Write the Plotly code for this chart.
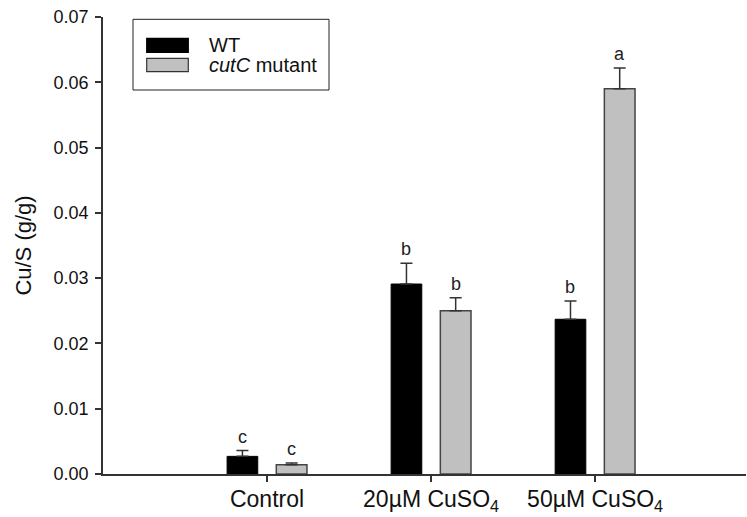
import plotly.graph_objects as go

# Data
categories = ["Control", "20\u00b5M CuSO<sub>4</sub>", "50\u00b5M CuSO<sub>4</sub>"]
series_names = ["WT", "<i>cutC</i> mutant"]
wt_values = [0.0027, 0.0291, 0.0237]
wt_errors = [0.0009, 0.0032, 0.0028]
mut_values = [0.0014, 0.0250, 0.0590]
mut_errors = [0.0003, 0.0020, 0.0032]
wt_letters = ["c", "b", "b"]
mut_letters = ["c", "b", "a"]
y_ticks = [0.00, 0.01, 0.02, 0.03, 0.04, 0.05, 0.06, 0.07]

FONT = "Liberation Sans, Arial, sans-serif"
W, H = 747, 517
L, R, T, B = 103, 1, 17, 43
BAR_W = 0.187
SHIFT = 0.15

xpos = list(range(len(categories)))

fig = go.Figure()

fig.add_trace(go.Bar(
    x=xpos, y=wt_values, name=series_names[0],
    width=BAR_W, offset=-SHIFT - BAR_W / 2,
    marker=dict(color="#000000", line=dict(color="#000000", width=1)),
    error_y=dict(type="data", symmetric=False, array=wt_errors,
                 arrayminus=[0] * len(wt_errors),
                 color="#333333", thickness=1.5, width=6),
    showlegend=False,
))
fig.add_trace(go.Bar(
    x=xpos, y=mut_values, name=series_names[1],
    width=BAR_W, offset=SHIFT - BAR_W / 2,
    marker=dict(color="#c0c0c0", line=dict(color="#444444", width=1.5)),
    error_y=dict(type="data", symmetric=False, array=mut_errors,
                 arrayminus=[0] * len(mut_errors),
                 color="#333333", thickness=1.5, width=6),
    showlegend=False,
))

# Significance letters above each error bar
annotations = []
for i in xpos:
    for off, vals, errs, letters in ((-SHIFT, wt_values, wt_errors, wt_letters),
                                     (SHIFT, mut_values, mut_errors, mut_letters)):
        annotations.append(dict(
            x=i + off, y=vals[i] + errs[i], xref="x", yref="y",
            text=letters[i], showarrow=False, yanchor="bottom", yshift=2,
            font=dict(family=FONT, size=18, color="#222222"),
        ))

# Legend box drawn in pixel terms
def px(x):
    return (x - L) / (W - L - R)

def py(y):
    return (H - B - y) / (H - T - B)

shapes = [
    dict(type="rect", xref="paper", yref="paper",
         x0=px(133), x1=px(329), y0=py(90), y1=py(19.3),
         line=dict(color="#222222", width=1), fillcolor="white"),
]
swatches = [("#000000", "#000000", 38.3, 52.3), ("#c0c0c0", "#333333", 58.3, 71.7)]
for (fill, edge, y0, y1), name in zip(swatches, series_names):
    shapes.append(dict(type="rect", xref="paper", yref="paper",
                       x0=px(146.7), x1=px(188.3), y0=py(y1), y1=py(y0),
                       line=dict(color=edge, width=1.2), fillcolor=fill))
    annotations.append(dict(
        x=px(207), y=py((y0 + y1) / 2), xref="paper", yref="paper",
        text=name, showarrow=False, xanchor="left", yanchor="middle",
        font=dict(family=FONT, size=20, color="#111111"),
    ))

fig.update_layout(
    width=W, height=H,
    margin=dict(l=L, r=R, t=T, b=B),
    paper_bgcolor="white", plot_bgcolor="white",
    font=dict(family=FONT, color="#111111"),
    barmode="overlay",
    shapes=shapes,
    annotations=annotations,
    xaxis=dict(
        range=[-1, 2.92], tickmode="array", tickvals=xpos, ticktext=categories,
        showline=True, linecolor="#333333", linewidth=1.5,
        ticks="outside", ticklen=6, tickwidth=1.5, tickcolor="#333333",
        ticklabelstandoff=-2,
        showgrid=False, zeroline=False, automargin=False,
        tickfont=dict(family=FONT, size=23, color="#111111"),
    ),
    yaxis=dict(
        range=[0, 0.07], tickmode="array", tickvals=y_ticks,
        tickformat=".2f",
        showline=True, linecolor="#333333", linewidth=1.5,
        ticks="outside", ticklen=6, tickwidth=1.5, tickcolor="#333333",
        ticklabelstandoff=3, automargin=False,
        showgrid=False, zeroline=False,
        tickfont=dict(family=FONT, size=18, color="#111111"),
        title=dict(text="Cu/S (g/g)", standoff=16,
                   font=dict(family=FONT, size=22, color="#111111")),
    ),
)

fig.write_html("out.html")
